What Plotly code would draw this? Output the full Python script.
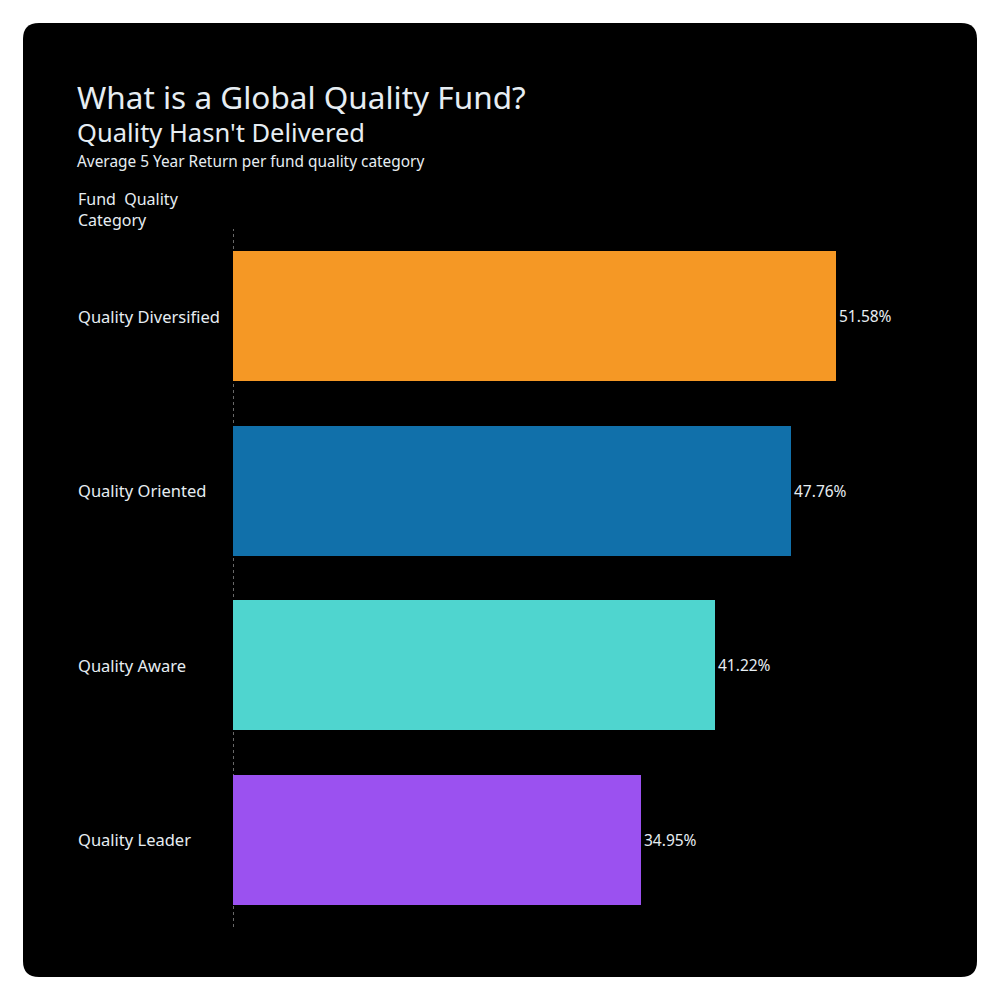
import plotly.graph_objects as go

# data, top to bottom as in the chart
categories = ["Quality Diversified", "Quality Oriented", "Quality Aware", "Quality Leader"]
returns = [51.58, 47.76, 41.22, 34.95]
bar_colors = ["#F59825", "#1170AA", "#4FD5CF", "#9B51F0"]

FONT = "Trebuchet MS, Noto Sans, sans-serif"
TXT = "#e6edf2"

# page offset of the plot div (body margin)
OFF = 8

# plot area in page pixels
L, R, T, B = 233 - OFF, 934 - OFF, 229 - OFF, 927 - OFF
W, H = R - L, B - T


def px(x):
    return (x - OFF - L) / W


def py(y):
    return (B - (y - OFF)) / H


# rounded black card behind everything
x0, x1, y0, y1, rad = 23, 977, 23, 977, 16
card = (
    f"M {px(x0 + rad)},{py(y0)} L {px(x1 - rad)},{py(y0)} "
    f"Q {px(x1)},{py(y0)} {px(x1)},{py(y0 + rad)} "
    f"L {px(x1)},{py(y1 - rad)} Q {px(x1)},{py(y1)} {px(x1 - rad)},{py(y1)} "
    f"L {px(x0 + rad)},{py(y1)} Q {px(x0)},{py(y1)} {px(x0)},{py(y1 - rad)} "
    f"L {px(x0)},{py(y0 + rad)} Q {px(x0)},{py(y0)} {px(x0 + rad)},{py(y0)} Z"
)

fig = go.Figure()
fig.add_trace(
    go.Bar(
        y=categories,
        x=returns,
        orientation="h",
        marker=dict(color=bar_colors, line=dict(width=0)),
        width=0.745,
        text=[f"{v:.2f}%" for v in returns],
        textposition="outside",
        textfont=dict(family=FONT, size=15.5, color=TXT),
        cliponaxis=False,
        hoverinfo="skip",
    )
)

header = [
    # title + subtitle share one block (line step = 1.3 x 25.5px)
    dict(text="<span style='font-size:31.5px'>What is a Global Quality Fund?</span>"
              "<br>Quality Hasn't Delivered",
         x=px(75.5), y=py(150.5), yanchor="bottom", size=25.5),
    dict(text="Average 5 Year Return per fund quality category",
         x=px(76), y=py(161.5), yanchor="middle", size=15.4),
    dict(text="Fund  Quality<br>Category",
         x=px(77), y=py(209), yanchor="middle", size=16),
]
annotations = [
    dict(
        text=a["text"], x=a["x"], y=a["y"], xref="paper", yref="paper",
        xanchor="left", yanchor=a["yanchor"], align="left", showarrow=False,
        borderpad=0,
        font=dict(family=FONT, size=a["size"], color=TXT),
    )
    for a in header
]
# row labels, left aligned
for c in categories:
    annotations.append(
        dict(
            text=c, x=px(76), y=c, xref="paper", yref="y",
            xanchor="left", yanchor="middle", showarrow=False,
            font=dict(family=FONT, size=16.5, color=TXT),
        )
    )

fig.update_layout(
    width=1000,
    height=1000,
    paper_bgcolor="white",
    plot_bgcolor="rgba(0,0,0,0)",
    margin=dict(l=L, r=1000 - R, t=T, b=1000 - B, pad=0),
    showlegend=False,
    bargap=0,
    xaxis=dict(range=[0, 60], visible=False, fixedrange=True),
    yaxis=dict(
        categoryorder="array",
        categoryarray=categories[::-1],
        range=[-0.5, 3.5],
        showticklabels=False,
        showgrid=False,
        zeroline=False,
        showline=False,
        ticks="",
        fixedrange=True,
    ),
    shapes=[
        dict(type="path", path=card, xref="paper", yref="paper",
             fillcolor="black", line=dict(width=0), layer="below"),
        dict(type="line", xref="x", yref="paper", x0=0, x1=0, y0=0, y1=1,
             line=dict(color="#d0d0d0", width=1, dash="dot"), layer="below"),
    ],
    annotations=annotations,
)

fig.write_html("out.html")
